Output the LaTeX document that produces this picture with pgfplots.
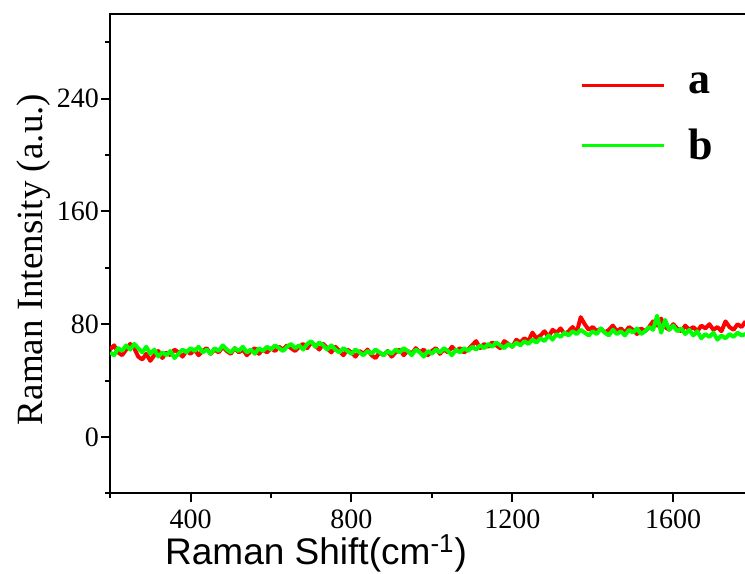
\documentclass[border=0pt]{standalone}
\usepackage{fontspec}
\setmainfont{Liberation Serif}
\setsansfont{Liberation Sans}
\usepackage{pgfplots}
\pgfplotsset{compat=1.18}
\usetikzlibrary{calc}
\definecolor{myred}{RGB}{255,0,0}
\definecolor{mygreen}{RGB}{0,255,0}
\begin{document}
\begin{tikzpicture}
\begin{axis}[
  scale only axis,
  width=317.5pt, height=239.5pt,
  xmin=200, xmax=1780, ymin=-40, ymax=300,
  xtick={400,800,1200,1600},
  minor xtick={200,600,1000,1400},
  ytick={0,80,160,240},
  minor ytick={-40,40,120,200,280},
  tick pos=left,
  tick align=outside,
  major tick length=4.5pt,
  minor tick length=2.5pt,
  axis line style={line width=1pt},
  every tick/.style={black, line width=1pt},
  every minor tick/.style={black, line width=1pt},
  /pgf/number format/assume math mode=true,
  /pgf/number format/1000 sep={},
  tick label style={font=\fontsize{14}{16}\selectfont},
  yticklabel style={xshift=2.5pt},
  xlabel={\sffamily Raman Shift(cm\textsuperscript{-1})},
  ylabel={Raman Intensity (a.u.)},
  label style={font=\fontsize{18.5}{22}\selectfont},
  xlabel style={at={(axis description cs:0.324,0)}, anchor=north, yshift=-17pt},
  ylabel style={at={(axis description cs:-0.082,0.488)}, anchor=south},
  legend style={draw=none, fill=none, at={(axis description cs:0.73,0.894)}, anchor=north west,
    font=\bfseries\fontsize{22}{26}\selectfont, row sep=12pt, legend cell align=left},
  legend image code/.code={\draw[#1, line width=1.5pt] (0pt,0pt) -- (41pt,0pt); \path (50pt,0pt);},
  clip=true,
]
\addplot[myred, line width=2pt, line join=round] table[row sep=\\] {
x y\\
200 62\\ 210 65\\ 220 60\\ 230 58\\ 240 62\\ 250 66\\ 260 63\\ 270 57\\ 280 55\\ 290 59\\
300 54\\ 310 58\\ 320 61\\ 330 56\\ 340 60\\ 350 58\\ 360 62\\ 370 60\\ 380 57\\ 390 61\\
400 59\\ 410 62\\ 420 58\\ 430 61\\ 440 63\\ 450 59\\ 460 62\\ 470 60\\ 480 64\\ 490 61\\
500 59\\ 510 63\\ 520 60\\ 530 62\\ 540 58\\ 550 61\\ 560 63\\ 570 59\\ 580 62\\ 590 60\\
600 63\\ 610 61\\ 620 64\\ 630 62\\ 640 65\\ 650 63\\ 660 61\\ 670 64\\ 680 66\\ 690 63\\
700 67\\ 710 65\\ 720 62\\ 730 66\\ 740 63\\ 750 60\\ 760 64\\ 770 61\\ 780 58\\ 790 62\\
800 60\\ 810 57\\ 820 61\\ 830 59\\ 840 62\\ 850 58\\ 860 56\\ 870 60\\ 880 58\\ 890 61\\
900 57\\ 910 60\\ 920 62\\ 930 58\\ 940 61\\ 950 59\\ 960 63\\ 970 60\\ 980 62\\ 990 58\\
1000 61\\ 1010 63\\ 1020 59\\ 1030 62\\ 1040 60\\ 1050 64\\ 1060 61\\ 1070 63\\ 1080 60\\ 1090 62\\
1100 65\\ 1110 68\\ 1120 63\\ 1130 66\\ 1140 64\\ 1150 67\\ 1160 65\\ 1170 63\\ 1180 68\\ 1190 66\\
1200 64\\ 1210 69\\ 1220 67\\ 1230 70\\ 1240 68\\ 1250 74\\ 1260 70\\ 1270 72\\ 1280 75\\ 1290 71\\
1300 76\\ 1310 74\\ 1320 77\\ 1330 73\\ 1340 75\\ 1350 78\\ 1360 74\\ 1370 85\\ 1380 80\\ 1390 76\\
1400 78\\ 1410 75\\ 1420 77\\ 1430 74\\ 1440 76\\ 1450 79\\ 1460 75\\ 1470 77\\ 1480 74\\ 1490 78\\
1500 76\\ 1510 73\\ 1520 77\\ 1530 75\\ 1540 78\\ 1550 82\\ 1560 79\\ 1570 84\\ 1580 78\\ 1590 76\\
1600 80\\ 1610 77\\ 1620 75\\ 1630 79\\ 1640 76\\ 1650 78\\ 1660 75\\ 1670 79\\ 1680 77\\ 1690 80\\
1700 76\\ 1710 78\\ 1720 75\\ 1730 82\\ 1740 78\\ 1750 76\\ 1760 80\\ 1770 78\\ 1780 82\\
};
\addlegendentry{a}
\addplot[mygreen, line width=2pt, line join=round] table[row sep=\\] {
x y\\
200 60\\ 210 58\\ 220 63\\ 230 61\\ 240 65\\ 250 62\\ 260 66\\ 270 63\\ 280 60\\ 290 64\\
300 59\\ 310 62\\ 320 57\\ 330 60\\ 340 58\\ 350 61\\ 360 56\\ 370 59\\ 380 62\\ 390 60\\
400 63\\ 410 61\\ 420 64\\ 430 60\\ 440 62\\ 450 59\\ 460 63\\ 470 61\\ 480 65\\ 490 62\\
500 60\\ 510 63\\ 520 61\\ 530 64\\ 540 60\\ 550 62\\ 560 59\\ 570 63\\ 580 61\\ 590 64\\
600 62\\ 610 65\\ 620 63\\ 630 61\\ 640 64\\ 650 66\\ 660 63\\ 670 65\\ 680 62\\ 690 66\\
700 68\\ 710 64\\ 720 67\\ 730 65\\ 740 62\\ 750 65\\ 760 62\\ 770 60\\ 780 63\\ 790 61\\
800 59\\ 810 62\\ 820 60\\ 830 58\\ 840 61\\ 850 59\\ 860 62\\ 870 60\\ 880 58\\ 890 61\\
900 59\\ 910 62\\ 920 60\\ 930 63\\ 940 61\\ 950 58\\ 960 62\\ 970 60\\ 980 57\\ 990 61\\
1000 59\\ 1010 62\\ 1020 60\\ 1030 63\\ 1040 61\\ 1050 58\\ 1060 62\\ 1070 60\\ 1080 63\\ 1090 61\\
1100 64\\ 1110 62\\ 1120 65\\ 1130 63\\ 1140 66\\ 1150 64\\ 1160 67\\ 1170 65\\ 1180 63\\ 1190 66\\
1200 64\\ 1210 67\\ 1220 65\\ 1230 68\\ 1240 66\\ 1250 69\\ 1260 67\\ 1270 70\\ 1280 68\\ 1290 72\\
1300 69\\ 1310 73\\ 1320 71\\ 1330 74\\ 1340 72\\ 1350 75\\ 1360 73\\ 1370 76\\ 1380 74\\ 1390 72\\
1400 75\\ 1410 73\\ 1420 77\\ 1430 74\\ 1440 72\\ 1450 76\\ 1460 73\\ 1470 75\\ 1480 72\\ 1490 76\\
1500 74\\ 1510 77\\ 1520 73\\ 1530 75\\ 1540 78\\ 1550 76\\ 1560 86\\ 1570 74\\ 1580 83\\ 1590 76\\
1600 79\\ 1610 75\\ 1620 77\\ 1630 73\\ 1640 76\\ 1650 72\\ 1660 75\\ 1670 70\\ 1680 73\\ 1690 71\\
1700 74\\ 1710 69\\ 1720 72\\ 1730 70\\ 1740 73\\ 1750 71\\ 1760 74\\ 1770 72\\ 1780 73\\
};
\addlegendentry{b}
\end{axis}
\pgfresetboundingbox
\path[use as bounding box] ($(current axis.south west)+(-55pt,-40pt)$) rectangle ($(current axis.north east)+(-0.3pt,7pt)$);
\end{tikzpicture}
\end{document}
